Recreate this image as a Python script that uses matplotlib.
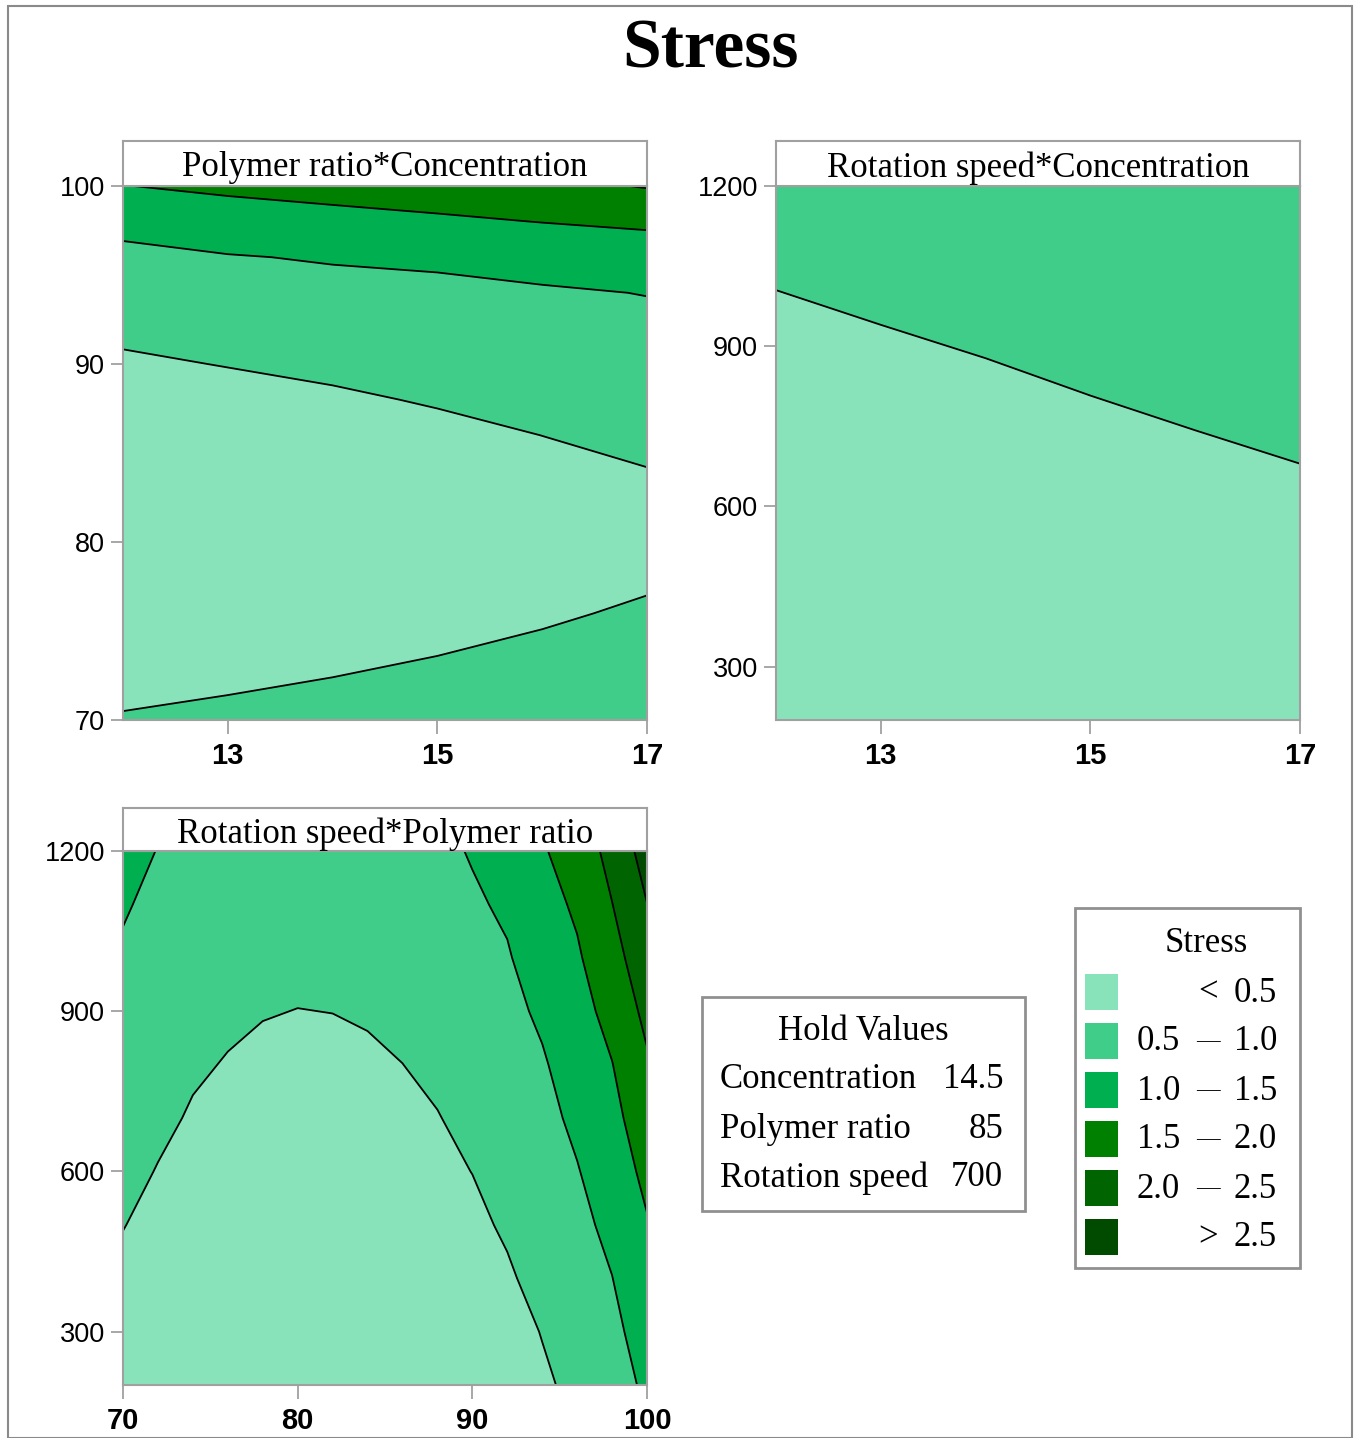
import matplotlib.pyplot as plt
import numpy as np
from matplotlib.patches import Rectangle

# contour bands
levels = [-10, 0.5, 1.0, 1.5, 2.0, 2.5, 10]
line_levels = [0.5, 1.0, 1.5, 2.0, 2.5]
band_colors = ["#88E3BB", "#40CD8A", "#00B050", "#008000", "#006400", "#004B00"]
band_lo = ["", "0.5", "1.0", "1.5", "2.0", ""]
band_sep = ["<", "—", "—", "—", "—", ">"]
band_hi = ["0.5", "1.0", "1.5", "2.0", "2.5", "2.5"]

hold_names = ["Concentration", "Polymer ratio", "Rotation speed"]
hold_values = ["14.5", "85", "700"]

# panel 1: Polymer ratio (rows) vs Concentration (columns)
conc = [12, 13, 14, 15, 16, 17]
ratio_rows = [70, 72, 74, 76, 78, 80, 82, 84, 86, 88, 90, 92, 94, 96, 98, 100]
stress_pc = [  # one list per concentration, bottom to top
    [0.53, 0.41, 0.29, 0.22, 0.18, 0.16, 0.16, 0.18, 0.24, 0.33, 0.446, 0.577, 0.75, 0.90, 1.12, 1.49],
    [0.584, 0.464, 0.35, 0.27, 0.22, 0.20, 0.20, 0.23, 0.29, 0.38, 0.513, 0.643, 0.80, 0.975, 1.27, 1.59],
    [0.644, 0.524, 0.404, 0.32, 0.27, 0.25, 0.25, 0.28, 0.34, 0.448, 0.578, 0.724, 0.868, 1.035, 1.35, 1.67],
    [0.716, 0.596, 0.476, 0.38, 0.33, 0.31, 0.31, 0.34, 0.41, 0.53, 0.66, 0.79, 0.92, 1.06, 1.425, 1.755],
    [0.806, 0.686, 0.566, 0.446, 0.40, 0.38, 0.38, 0.40, 0.502, 0.62, 0.74, 0.84, 0.955, 1.155, 1.51, 1.85],
    [0.885, 0.775, 0.665, 0.555, 0.445, 0.42, 0.43, 0.488, 0.608, 0.71, 0.81, 0.91, 1.01, 1.28, 1.57, 2.03],
]

# panel 2: Rotation speed (rows) vs Concentration (columns)
speed_rows2 = [200, 400, 600, 800, 1000, 1200]
stress_sc = [
    [0.178, 0.258, 0.338, 0.418, 0.498, 0.578],
    [0.204, 0.284, 0.364, 0.444, 0.524, 0.604],
    [0.229, 0.309, 0.389, 0.469, 0.549, 0.629],
    [0.257, 0.337, 0.417, 0.497, 0.577, 0.657],
    [0.283, 0.363, 0.443, 0.523, 0.603, 0.683],
    [0.308, 0.388, 0.468, 0.548, 0.628, 0.708],
]

# panel 3: Rotation speed (rows) vs Polymer ratio (columns)
ratio = [70, 72, 74, 76, 78, 80, 82, 84, 86, 88, 90, 92, 94, 96, 98, 100]
speed_rows3 = [200, 300, 400, 500, 600, 700, 800, 900, 1000, 1100, 1200]
stress_sp = [
    [0.268, 0.348, 0.428, 0.509, 0.597, 0.685, 0.773, 0.861, 0.948, 1.037, 1.127],
    [0.206, 0.276, 0.346, 0.416, 0.486, 0.568, 0.652, 0.737, 0.821, 0.906, 0.990],
    [0.17, 0.23, 0.29, 0.35, 0.41, 0.47, 0.54, 0.62, 0.70, 0.78, 0.86],
    [0.123, 0.183, 0.243, 0.303, 0.363, 0.423, 0.483, 0.553, 0.628, 0.703, 0.778],
    [0.083, 0.143, 0.203, 0.263, 0.323, 0.383, 0.443, 0.513, 0.583, 0.653, 0.723],
    [0.066, 0.126, 0.186, 0.246, 0.306, 0.366, 0.426, 0.496, 0.566, 0.636, 0.706],
    [0.073, 0.133, 0.193, 0.253, 0.313, 0.373, 0.433, 0.503, 0.573, 0.643, 0.713],
    [0.096, 0.156, 0.216, 0.276, 0.336, 0.396, 0.456, 0.526, 0.596, 0.666, 0.736],
    [0.128, 0.188, 0.248, 0.308, 0.368, 0.428, 0.498, 0.578, 0.658, 0.738, 0.818],
    [0.190, 0.250, 0.310, 0.370, 0.430, 0.487, 0.570, 0.653, 0.736, 0.819, 0.902],
    [0.253, 0.313, 0.373, 0.433, 0.504, 0.591, 0.679, 0.766, 0.854, 0.946, 1.029],
    [0.299, 0.379, 0.459, 0.542, 0.628, 0.713, 0.799, 0.885, 0.968, 1.06, 1.21],
    [0.45, 0.512, 0.606, 0.695, 0.784, 0.873, 0.955, 1.07, 1.20, 1.33, 1.46],
    [0.577, 0.677, 0.777, 0.877, 0.977, 1.090, 1.208, 1.327, 1.445, 1.569, 1.70],
    [0.773, 0.883, 0.993, 1.116, 1.240, 1.364, 1.488, 1.653, 1.822, 1.991, 2.161],
    [1.091, 1.216, 1.341, 1.466, 1.617, 1.779, 1.940, 2.119, 2.307, 2.494, 2.694],
]

SERIF = ["Liberation Serif", "DejaVu Serif"]
SANS = ["Liberation Sans", "DejaVu Sans"]
GRAY = "#A0A0A0"

W, H = 1356, 1438
fig = plt.figure(figsize=(W / 100, H / 100), dpi=100)


def box(px0, py0, px1, py1):
    # pixel box (top-left origin) -> figure rect
    return [px0 / W, 1 - py1 / H, (px1 - px0) / W, (py1 - py0) / H]


def panel(rect, head_rect, title, x, y, z, xlim, ylim, xticks, yticks):
    ax = fig.add_axes(box(*rect))
    Z = np.array(z).T
    ax.contourf(x, y, Z, levels=levels, colors=band_colors)
    ax.contour(x, y, Z, levels=line_levels, colors="black", linewidths=1.3)
    ax.set_xlim(*xlim)
    ax.set_ylim(*ylim)
    ax.set_xticks(xticks)
    ax.set_yticks(yticks)
    ax.set_xticklabels([str(t) for t in xticks], family=SANS, fontsize=21, weight="bold")
    ax.set_yticklabels([str(t) for t in yticks], family=SANS, fontsize=19.5)
    ax.tick_params(axis="x", length=10, width=1.3, color=GRAY, pad=6)
    ax.tick_params(axis="y", length=9, width=1.3, color=GRAY, pad=4)
    for s in ax.spines.values():
        s.set_color(GRAY)
        s.set_linewidth(1.5)
    hx = fig.add_axes(box(*head_rect))
    hx.set_xticks([])
    hx.set_yticks([])
    for s in hx.spines.values():
        s.set_color(GRAY)
        s.set_linewidth(1.5)
    hx.text(0.5, 0.4, title, ha="center", va="center", family=SERIF, fontsize=25)
    return ax


panel((123, 186, 647, 720), (123, 141, 647, 186), "Polymer ratio*Concentration",
      conc, ratio_rows, stress_pc, (12, 17), (70, 100), [13, 15, 17], [70, 80, 90, 100])
panel((776, 186, 1300, 720), (776, 141, 1300, 186), "Rotation speed*Concentration",
      conc, speed_rows2, stress_sc, (12, 17), (200, 1200), [13, 15, 17], [300, 600, 900, 1200])
panel((123, 851, 647, 1385), (123, 808, 647, 851), "Rotation speed*Polymer ratio",
      ratio, speed_rows3, stress_sp, (70, 100), (200, 1200), [70, 80, 90, 100], [300, 600, 900, 1200])

# title
fig.text(711 / W, 1 - 50 / H, "Stress", ha="center", va="center",
         family=SERIF, fontsize=50, weight="bold")

# hold values box
fig.patches.append(Rectangle((702 / W, 1 - 1211 / H), 323 / W, 214 / H, transform=fig.transFigure,
                             fill=False, edgecolor="#909090", linewidth=2))
fig.text(863 / W, 1 - 1032 / H, "Hold Values", ha="center", va="center", family=SERIF, fontsize=25)
for i, (name, val) in enumerate(zip(hold_names, hold_values)):
    yy = 1 - (1080 + 49 * i) / H
    fig.text(720 / W, yy, name, ha="left", va="center", family=SERIF, fontsize=25)
    fig.text(1003 / W, yy, val, ha="right", va="center", family=SERIF, fontsize=25)

# legend box
fig.patches.append(Rectangle((1075 / W, 1 - 1268 / H), 225 / W, 360 / H, transform=fig.transFigure,
                             fill=False, edgecolor="#909090", linewidth=2))
fig.text(1206 / W, 1 - 943 / H, "Stress", ha="center", va="center", family=SERIF, fontsize=25)
for i, c in enumerate(band_colors):
    cy = 992 + 49 * i
    fig.patches.append(Rectangle((1085 / W, 1 - (cy + 18) / H), 33 / W, 36 / H,
                                 transform=fig.transFigure, facecolor=c, edgecolor="none"))
    fig.text(1180 / W, 1 - (cy + 1) / H, band_lo[i], ha="right", va="center", family=SERIF, fontsize=25)
    sep_size = 25 if band_sep[i] in "<>" else 17
    fig.text(1208 / W, 1 - (cy + 1) / H, band_sep[i], ha="center", va="center", family=SERIF,
             fontsize=sep_size)
    fig.text(1277 / W, 1 - (cy + 1) / H, band_hi[i], ha="right", va="center", family=SERIF, fontsize=25)

# outer frame
fig.patches.append(Rectangle((8 / W, 0), 1344 / W, 1 - 6 / H, transform=fig.transFigure,
                             fill=False, edgecolor="#8A8A8A", linewidth=1.5))

fig.savefig("out.png", dpi=100)
